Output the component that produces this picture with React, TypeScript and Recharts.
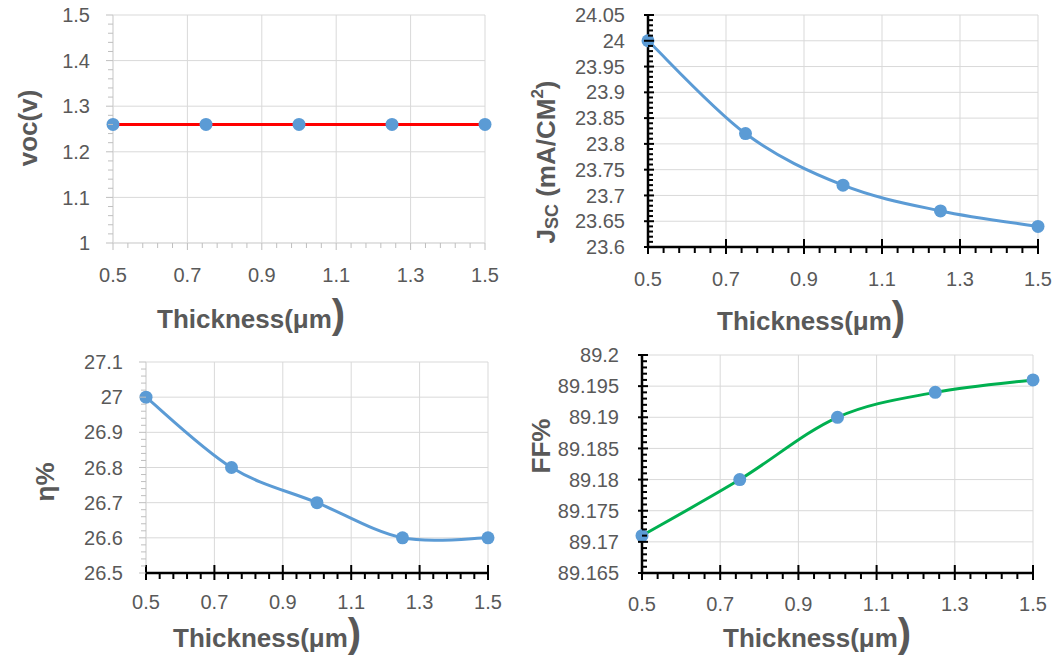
import React from "react";
import { CartesianGrid, Line, LineChart, XAxis, YAxis } from "recharts";

const FONT = "'Liberation Sans', Arial, sans-serif";
const TEXT = "#595959";
const GRID = "#d9d9d9";
const DOT = "#5b9bd5";

const thickness = [0.5, 0.75, 1.0, 1.25, 1.5];
const voc = [1.26, 1.26, 1.26, 1.26, 1.26];
const jsc = [24.0, 23.82, 23.72, 23.67, 23.64];
const eta = [27.0, 26.8, 26.7, 26.6, 26.6];
const ff = [89.171, 89.18, 89.19, 89.194, 89.196];

const xTicks = [0.5, 0.7, 0.9, 1.1, 1.3, 1.5];
const vocTicks = [1, 1.1, 1.2, 1.3, 1.4, 1.5];
const jscTicks = [23.6, 23.65, 23.7, 23.75, 23.8, 23.85, 23.9, 23.95, 24, 24.05];
const etaTicks = [26.5, 26.6, 26.7, 26.8, 26.9, 27, 27.1];
const ffTicks = [89.165, 89.17, 89.175, 89.18, 89.185, 89.19, 89.195, 89.2];

// minor tick positions along an axis
function minor(lo: number, hi: number, step: number) {
  const out: number[] = [];
  const n = Math.round((hi - lo) / step);
  for (let i = 0; i <= n; i++) out.push(+(lo + i * step).toFixed(6));
  return out;
}

const isIn = (list: number[], v: number) => list.some((m) => Math.abs(m - v) < 1e-9);

// Excel-like smoothed line: cubic beziers with catmull-rom tangents
const excelCurve = (ctx: any) => {
  let pts: number[][] = [];
  return {
    areaStart() {},
    areaEnd() {},
    lineStart() {
      pts = [];
    },
    point(x: number, y: number) {
      pts.push([+x, +y]);
    },
    lineEnd() {
      if (!pts.length) return;
      ctx.moveTo(pts[0][0], pts[0][1]);
      for (let i = 0; i < pts.length - 1; i++) {
        const p0 = pts[i - 1] || pts[i];
        const p1 = pts[i];
        const p2 = pts[i + 1];
        const p3 = pts[i + 2] || p2;
        ctx.bezierCurveTo(
          p1[0] + (p2[0] - p0[0]) / 6,
          p1[1] + (p2[1] - p0[1]) / 6,
          p2[0] - (p3[0] - p1[0]) / 6,
          p2[1] - (p3[1] - p1[1]) / 6,
          p2[0],
          p2[1]
        );
      }
    },
  };
};

type AxisStyle = {
  axis: string;
  axisW: number;
  tick: string;
  tickW: number;
  majorOut: number;
  majorIn: number;
  minorOut: number;
  minorIn: number;
};

const light: AxisStyle = { axis: "#d9d9d9", axisW: 1, tick: "#bfbfbf", tickW: 1, majorOut: 7, majorIn: 0, minorOut: 5, minorIn: 0 };
const darkX: AxisStyle = { axis: "#000", axisW: 2.5, tick: "#000", tickW: 2, majorOut: 7, majorIn: 8, minorOut: 6, minorIn: 0 };
const darkY: AxisStyle = { axis: "#000", axisW: 2.5, tick: "#000", tickW: 2, majorOut: 4, majorIn: 6, minorOut: 0, minorIn: 5 };

// tick mark + label (labels only on major ticks)
function XTick({ x, y, payload, st, majors, gap }: any) {
  const major = isIn(majors, payload.value);
  const ay = y - gap;
  return (
    <g>
      <line x1={x} x2={x} y1={ay - (major ? st.majorIn : st.minorIn)} y2={ay + (major ? st.majorOut : st.minorOut)}
        stroke={st.tick} strokeWidth={st.tickW} />
      {major && (
        <text x={x} y={y} dy="0.71em" textAnchor="middle" fill={TEXT} fontSize={20} fontFamily={FONT}>
          {String(payload.value)}
        </text>
      )}
    </g>
  );
}

function YTick({ x, y, payload, st, majors, gap }: any) {
  const major = isIn(majors, payload.value);
  const ax = x + gap;
  return (
    <g>
      <line y1={y} y2={y} x1={ax - (major ? st.majorOut : st.minorOut)} x2={ax + (major ? st.majorIn : st.minorIn)}
        stroke={st.tick} strokeWidth={st.tickW} />
      {major && (
        <text x={x} y={y} dy="0.355em" textAnchor="end" fill={TEXT} fontSize={20} fontFamily={FONT}>
          {String(payload.value)}
        </text>
      )}
    </g>
  );
}

function XTitle({ x, y }: { x: number; y: number }) {
  return (
    <text x={x} y={y} fill={TEXT} fontFamily={FONT} fontWeight="bold" fontSize={26}>
      Thickness(μm<tspan fontSize={40}>)</tspan>
    </text>
  );
}

function YTitle({ x, y, children }: { x: number; y: number; children: React.ReactNode }) {
  return (
    <text
      x={x}
      y={y}
      transform={`rotate(-90 ${x} ${y})`}
      textAnchor="middle"
      dominantBaseline="central"
      fill={TEXT}
      fontFamily={FONT}
      fontWeight="bold"
      fontSize={26}
    >
      {children}
    </text>
  );
}

type PanelProps = {
  values: number[];
  color: string;
  smooth: boolean;
  yTicks: number[];
  yMinor: number[];
  margin: { top: number; right: number; bottom: number; left: number };
  xs: AxisStyle;
  ys: AxisStyle;
  xGap: number;
  xTitle: React.ReactNode;
  yTitle: React.ReactNode;
};

function Panel({ values, color, smooth, yTicks, yMinor, margin, xs, ys, xGap, xTitle, yTitle }: PanelProps) {
  const data = thickness.map((t, i) => ({ t, v: values[i] }));
  const yGap = 23;
  const xAll = Array.from(new Set([...minor(0.5, 1.5, 0.04), ...xTicks])).sort((a, b) => a - b);
  const yAll = Array.from(new Set([...yMinor, ...yTicks])).sort((a, b) => a - b);
  return (
    <div style={{ position: "absolute", left: 0, top: 0 }}>
      <LineChart width={1060} height={658} data={data} margin={margin}>
        <CartesianGrid stroke={GRID} strokeWidth={1} verticalValues={xTicks} horizontalValues={yTicks} />
        <XAxis
          type="number"
          dataKey="t"
          domain={[0.5, 1.5]}
          ticks={xAll}
          interval={0}
          height={30}
          tickSize={0}
          tickMargin={xGap}
          tickLine={false}
          tick={(p: any) => <XTick {...p} st={xs} majors={xTicks} gap={xGap} />}
          axisLine={{ stroke: xs.axis, strokeWidth: xs.axisW }}
          label={{ content: () => xTitle }}
        />
        <YAxis
          type="number"
          domain={[yTicks[0], yTicks[yTicks.length - 1]]}
          ticks={yAll}
          interval={0}
          width={60}
          tickSize={0}
          tickMargin={yGap}
          tickLine={false}
          tick={(p: any) => <YTick {...p} st={ys} majors={yTicks} gap={yGap} />}
          axisLine={{ stroke: ys.axis, strokeWidth: ys.axisW }}
          label={{ content: () => yTitle }}
        />
        <Line
          dataKey="v"
          type={smooth ? (excelCurve as any) : "linear"}
          stroke={color}
          strokeWidth={3}
          dot={{ r: 6.5, fill: DOT, stroke: DOT, strokeWidth: 0 }}
          activeDot={false}
          isAnimationActive={false}
        />
      </LineChart>
    </div>
  );
}

export default function App() {
  return (
    <div style={{ position: "absolute", left: 0, top: 0, width: 1060, height: 658, background: "#fff" }}>
      <Panel
        values={voc}
        color="#ff0000"
        smooth={false}
        yTicks={vocTicks}
        yMinor={minor(1, 1.5, 0.02)}
        margin={{ top: 15, right: 575, bottom: 385, left: 53 }}
        xs={light}
        ys={light}
        xGap={25}
        xTitle={<XTitle x={157} y={328} />}
        yTitle={<YTitle x={28} y={128}>voc(v)</YTitle>}
      />
      <Panel
        values={jsc}
        color="#5b9bd5"
        smooth
        yTicks={jscTicks}
        yMinor={minor(23.6, 24.05, 0.01)}
        margin={{ top: 15, right: 22, bottom: 381, left: 588 }}
        xs={darkX}
        ys={darkY}
        xGap={25}
        xTitle={<XTitle x={717} y={330} />}
        yTitle={
          <YTitle x={546} y={162}>
            J<tspan fontSize={18} dy={6}>SC</tspan>
            <tspan dy={-6}> (mA/CM</tspan>
            <tspan fontSize={17} dy={-9}>2</tspan>
            <tspan dy={9}>)</tspan>
          </YTitle>
        }
      />
      <Panel
        values={eta}
        color="#5b9bd5"
        smooth
        yTicks={etaTicks}
        yMinor={minor(26.5, 27.1, 0.02)}
        margin={{ top: 362, right: 572, bottom: 55, left: 86 }}
        xs={darkX}
        ys={light}
        xGap={22}
        xTitle={<XTitle x={173} y={647} />}
        yTitle={<YTitle x={45} y={482}>η%</YTitle>}
      />
      <Panel
        values={ff}
        color="#00b050"
        smooth
        yTicks={ffTicks}
        yMinor={minor(89.165, 89.2, 0.001)}
        margin={{ top: 355, right: 27, bottom: 55, left: 582 }}
        xs={darkX}
        ys={darkY}
        xGap={24}
        xTitle={<XTitle x={723} y={647} />}
        yTitle={<YTitle x={541} y={446}>FF%</YTitle>}
      />
    </div>
  );
}
